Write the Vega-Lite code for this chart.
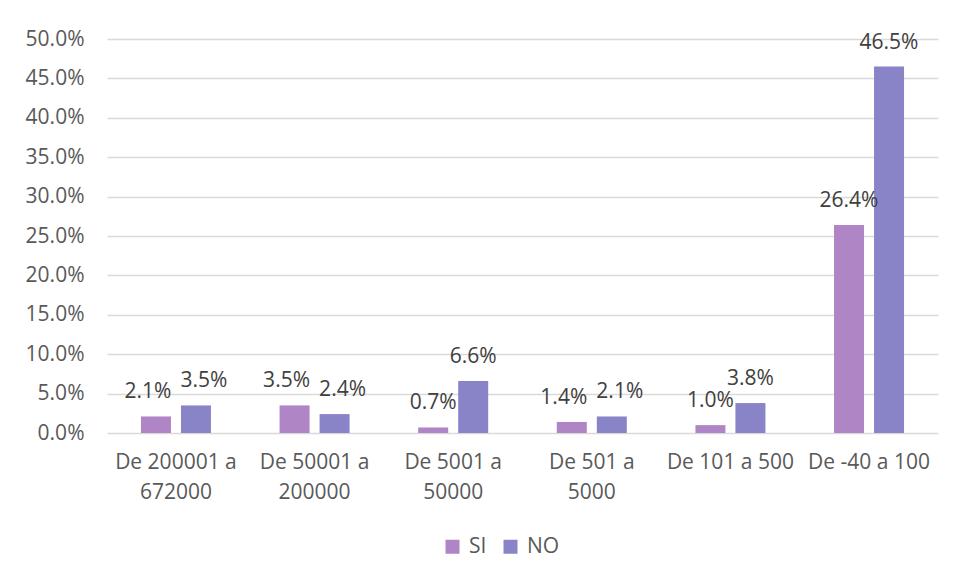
{
  "$schema": "https://vega.github.io/schema/vega-lite/v6.json",
  "width": 831,
  "height": 394,
  "autosize": "none",
  "padding": {"left": 107, "top": 39, "right": 17, "bottom": 145},
  "background": "white",
  "config": {
    "view": {"stroke": null},
    "font": "Open Sans",
    "axis": {"labelFont": "Open Sans"},
    "legend": {"labelFont": "Open Sans"}
  },
  "data": {
    "values": [
      {"rango": "De 200001 a 672000", "serie": "SI", "pct": 0.021},
      {"rango": "De 200001 a 672000", "serie": "NO", "pct": 0.035},
      {"rango": "De 50001 a 200000", "serie": "SI", "pct": 0.035},
      {"rango": "De 50001 a 200000", "serie": "NO", "pct": 0.024},
      {"rango": "De 5001 a 50000", "serie": "SI", "pct": 0.007},
      {"rango": "De 5001 a 50000", "serie": "NO", "pct": 0.066},
      {"rango": "De 501 a 5000", "serie": "SI", "pct": 0.014},
      {"rango": "De 501 a 5000", "serie": "NO", "pct": 0.021},
      {"rango": "De 101 a 500", "serie": "SI", "pct": 0.010},
      {"rango": "De 101 a 500", "serie": "NO", "pct": 0.038},
      {"rango": "De -40 a 100", "serie": "SI", "pct": 0.264},
      {"rango": "De -40 a 100", "serie": "NO", "pct": 0.465}
    ]
  },
  "encoding": {
    "x": {
      "field": "rango",
      "type": "nominal",
      "sort": null,
      "scale": {"paddingInner": 0.495, "paddingOuter": 0.245},
      "axis": {
        "title": null,
        "domain": false,
        "ticks": false,
        "labelAngle": 0,
        "labelFontSize": 21,
        "labelColor": "#595959",
        "labelPadding": 18,
        "labelLineHeight": 30,
        "labelLimit": 200,
        "labelExpr": "length(datum.label) > 12 ? [slice(datum.label, 0, lastindexof(datum.label, ' ')), slice(datum.label, lastindexof(datum.label, ' ') + 1)] : datum.label"
      }
    },
    "xOffset": {
      "field": "serie",
      "type": "nominal",
      "sort": ["SI", "NO"],
      "scale": {"paddingInner": 0.25, "paddingOuter": 0}
    },
    "y": {
      "field": "pct",
      "type": "quantitative",
      "scale": {"domain": [0, 0.5], "nice": false},
      "axis": {
        "title": null,
        "format": ".1%",
        "values": [0, 0.05, 0.1, 0.15, 0.2, 0.25, 0.3, 0.35, 0.4, 0.45, 0.5],
        "domain": false,
        "ticks": false,
        "grid": true,
        "gridColor": "#D9D9D9",
        "gridWidth": 1.3,
        "labelFontSize": 21,
        "labelColor": "#595959",
        "labelPadding": 23
      }
    }
  },
  "layer": [
    {
      "mark": {"type": "bar"},
      "encoding": {
        "color": {
          "field": "serie",
          "type": "nominal",
          "sort": ["SI", "NO"],
          "scale": {"domain": ["SI", "NO"], "range": ["#B085C5", "#8884C7"]},
          "legend": {
            "title": null,
            "orient": "none",
            "direction": "horizontal",
            "legendX": 335,
            "legendY": 497,
            "padding": 0,
            "symbolType": "square",
            "symbolSize": 196,
            "symbolStrokeWidth": 0,
            "labelFontSize": 21,
            "labelColor": "#595959",
            "labelOffset": 6,
            "columnPadding": 13
          }
        }
      }
    },
    {
      "transform": [
        {"filter": {"field": "rango", "oneOf": ["De 200001 a 672000", "De 50001 a 200000", "De 501 a 5000"]}},
        {"filter": "datum.serie === 'SI'"}
      ],
      "mark": {"type": "text", "baseline": "middle", "dy": -24, "dx": -8, "fontSize": 21, "color": "#404040"},
      "encoding": {"text": {"field": "pct", "type": "quantitative", "format": ".1%"}}
    },
    {
      "transform": [
        {"filter": {"field": "rango", "oneOf": ["De 200001 a 672000", "De 50001 a 200000", "De 501 a 5000"]}},
        {"filter": "datum.serie === 'NO'"}
      ],
      "mark": {"type": "text", "baseline": "middle", "dy": -24, "dx": 8, "fontSize": 21, "color": "#404040"},
      "encoding": {"text": {"field": "pct", "type": "quantitative", "format": ".1%"}}
    },
    {
      "transform": [
        {"filter": {"not": {"field": "rango", "oneOf": ["De 200001 a 672000", "De 50001 a 200000", "De 501 a 5000"]}}}
      ],
      "mark": {"type": "text", "baseline": "middle", "dy": -24, "fontSize": 21, "color": "#404040"},
      "encoding": {"text": {"field": "pct", "type": "quantitative", "format": ".1%"}}
    }
  ]
}
